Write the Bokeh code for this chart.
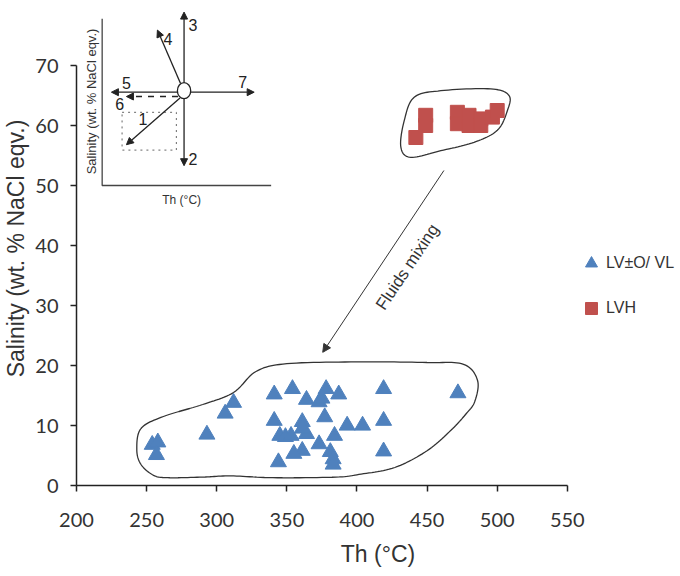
import math
import numpy as np
from bokeh.plotting import figure
from bokeh.models import (Range1d, FixedTicker, Legend, LegendItem, Label, Arrow, NormalHead)
from bokeh.embed import file_html
from bokeh.resources import INLINE

# ---------------- data ----------------
# LV±O / VL inclusions: homogenisation temperature (°C) and salinity (wt.% NaCl eqv.)
lv_th = [341, 354, 364, 378, 373, 387, 419, 341, 361, 377, 393, 404, 419, 345, 349, 353,
         364, 361, 384, 373, 361, 355, 381, 383, 419, 344, 383, 312, 306, 293, 254, 258,
         257, 472, 375]
lv_sal = [15.2, 16.1, 14.3, 16.1, 13.9, 15.2, 16.1, 10.8, 10.6, 11.4, 10.0, 10.0, 10.8, 8.3, 8.1, 8.3,
          8.6, 9.5, 8.3, 6.9, 5.8, 5.3, 5.6, 4.4, 5.7, 3.9, 3.5, 13.8, 12.0, 8.5, 6.8, 7.2,
          5.1, 15.4, 14.5]
# LVH inclusions
lvh_th = [449, 449, 442, 471.6, 471.6, 479.9, 479.9, 488.3, 488.3, 496.6, 500]
lvh_sal = [61.7, 60.0, 58.0, 62.2, 60.3, 61.7, 60.0, 61.1, 60.0, 61.4, 62.5]

x_ticks = [200, 250, 300, 350, 400, 450, 500, 550]
y_ticks = [0, 10, 20, 30, 40, 50, 60, 70]

series_names = ["LV\u00b1O/ VL", "LVH"]
x_title = "Th (\u00b0C)"
y_title = "Salinity (wt. % NaCl eqv.)"

# hand-drawn group outlines (control points, smoothed below)
blue_hull_x = [246, 262, 290, 312, 328, 350, 400, 450, 476, 486, 484, 478, 467, 450, 427, 403,
               385, 340, 310, 290, 265, 255, 246, 243]
blue_hull_y = [9.5, 11.5, 13.5, 15.5, 19, 20.3, 20.6, 20.5, 20.2, 17.5, 14, 12, 9.2, 5.8, 3, 1.9,
               1.4, 1.3, 1.6, 1.4, 1.3, 1.7, 3.5, 6]
red_hull_x = [440.8, 459.8, 495.4, 508.4, 507.3, 500.1, 483.5, 459.8, 438.4, 431.3, 433.7]
red_hull_y = [64.7, 65.8, 66.1, 65.0, 62.5, 59.2, 57.2, 55.8, 54.7, 56.4, 60.8]

# schematic inset (drawn in the chart's data space)
inset_axes_x = [218.3, 218.3, 338.8]
inset_axes_y = [77.8, 50.0, 50.0]
inset_center = (276.7, 65.8)
inset_arrows = [  # x0, y0, x1, y1, dash
    (276.7, 67.15, 276.7, 78.9, "solid"),   # 3
    (276.7, 64.45, 276.7, 53.3, "solid"),   # 2
    (274.2, 67.0, 257.7, 75.9, "solid"),    # 4
    (272.0, 65.55, 224.9, 65.55, "solid"),  # 5
    (281.4, 65.55, 326.7, 65.55, "solid"),  # 7
    (272.4, 64.83, 235.6, 64.83, "dashed"), # 6
    (273.8, 64.6, 235.6, 56.8, "solid"),    # 1
]
inset_nums = [("3", 283, 76.7), ("2", 283, 54.5), ("4", 265.3, 74.5), ("5", 235.6, 67.1),
              ("7", 318.6, 67.2), ("6", 230.8, 63.6), ("1", 247.4, 61.1)]
inset_box = (232.5, 271.2, 55.9, 62.2)

BLUE = "#4F81BD"
RED = "#C0504D"
INK = "#333333"


def smooth_closed(xs, ys, n=12):
    P = np.column_stack([xs, ys]).astype(float)
    m = len(P)
    out = []
    for i in range(m):
        p0, p1, p2, p3 = P[(i - 1) % m], P[i], P[(i + 1) % m], P[(i + 2) % m]
        for t in np.linspace(0, 1, n, endpoint=False):
            t2, t3 = t * t, t * t * t
            out.append(0.5 * ((2 * p1) + (-p0 + p2) * t + (2 * p0 - 5 * p1 + 4 * p2 - p3) * t2
                              + (-p0 + 3 * p1 - 3 * p2 + p3) * t3))
    out = np.array(out + [out[0]])
    return out[:, 0], out[:, 1]


p = figure(width=680, height=576, x_range=Range1d(200, 630), y_range=Range1d(0, 79),
           output_backend="svg", toolbar_location=None,
           min_border_left=75, min_border_right=1, min_border_top=11, min_border_bottom=91)
p.outline_line_color = None
p.grid.visible = False
p.background_fill_color = "white"

for ax, ticks, standoff in ((p.xaxis, x_ticks, 21), (p.yaxis, y_ticks, 12)):
    ax.ticker = FixedTicker(ticks=ticks)
    ax.bounds = (ticks[0], ticks[-1])
    ax.axis_line_color = "#222222"
    ax.axis_line_width = 1.5
    ax.minor_tick_line_color = None
    ax.major_tick_in = 0
    ax.major_tick_out = 6
    ax.major_tick_line_width = 1.5
    ax.major_tick_line_color = "#222222"
    ax.major_label_text_font = "Lato"
    ax.major_label_text_font_size = "20px"
    ax.major_label_text_color = INK
    ax.major_label_standoff = standoff
    ax.axis_label_text_font = "Liberation Sans"
    ax.axis_label_text_font_style = "normal"
    ax.axis_label_text_color = INK

p.yaxis.axis_label = y_title
p.yaxis.axis_label_text_font_size = "23px"
p.yaxis.axis_label_standoff = 3
p.xaxis.axis_label = x_title
p.xaxis.axis_label_text_font_size = "23px"
p.xaxis.axis_label_standoff = 11

# group outlines
bx, by = smooth_closed(blue_hull_x, blue_hull_y)
p.line(bx, by, line_color=INK, line_width=1.3)
rx, ry = smooth_closed(red_hull_x, red_hull_y)
p.line(rx, ry, line_color=INK, line_width=1.3)

r_lv = p.scatter(lv_th, lv_sal, marker="triangle", size=16, fill_color=BLUE, line_color=BLUE)
r_lvh = p.scatter(lvh_th, lvh_sal, marker="square", size=14, fill_color=RED, line_color=RED)

# mixing arrow + text
p.add_layout(Arrow(x_start=462, y_start=52.5, x_end=375.6, y_end=22.2, line_color=INK, line_width=1,
                   end=NormalHead(size=8, fill_color=INK, line_color=INK)))
p.add_layout(Label(x=436, y=36.4, text="Fluids mixing", angle=math.radians(56.2),
                   text_align="center", text_baseline="middle", text_font="Liberation Sans",
                   text_font_size="17px", text_color=INK))

# inset schematic
p.line(inset_axes_x, inset_axes_y, line_color="#444444", line_width=1.3)
p.quad(left=[inset_box[0]], right=[inset_box[1]], bottom=[inset_box[2]], top=[inset_box[3]],
       fill_color=None, line_color="#666666", line_dash="dotted", line_width=1)
for x0, y0, x1, y1, dash in inset_arrows:
    p.add_layout(Arrow(x_start=x0, y_start=y0, x_end=x1, y_end=y1, line_color="#222222",
                       line_width=1.3, line_dash=dash,
                       end=NormalHead(size=7, fill_color="#222222", line_color="#222222")))
p.ellipse(x=[inset_center[0]], y=[inset_center[1]], width=9.5, height=2.67,
          fill_color="white", line_color="#222222", line_width=1.3)
for t, x, y in inset_nums:
    p.add_layout(Label(x=x, y=y, text=t, text_align="center", text_baseline="middle",
                       text_font="Liberation Sans", text_font_size="16px", text_color="#222222"))
p.add_layout(Label(x=210.7, y=64.0, text=y_title, angle=math.pi / 2, text_align="center",
                   text_baseline="middle", text_font="Liberation Sans", text_font_size="13px",
                   text_color=INK))
p.add_layout(Label(x=275, y=47.6, text=x_title, text_align="center", text_baseline="middle",
                   text_font="Liberation Sans", text_font_size="12px", text_color=INK))

legend = Legend(items=[LegendItem(label=series_names[0], renderers=[r_lv]),
                       LegendItem(label=series_names[1], renderers=[r_lvh])],
                location=(500, 162), glyph_width=30, glyph_height=30, label_height=30,
                spacing=15, padding=0, margin=0, label_standoff=0,
                border_line_color=None, background_fill_alpha=0,
                label_text_font="Liberation Sans", label_text_font_size="16px",
                label_text_color=INK)
p.add_layout(legend)

open("out.html", "w").write(file_html(p, INLINE))
